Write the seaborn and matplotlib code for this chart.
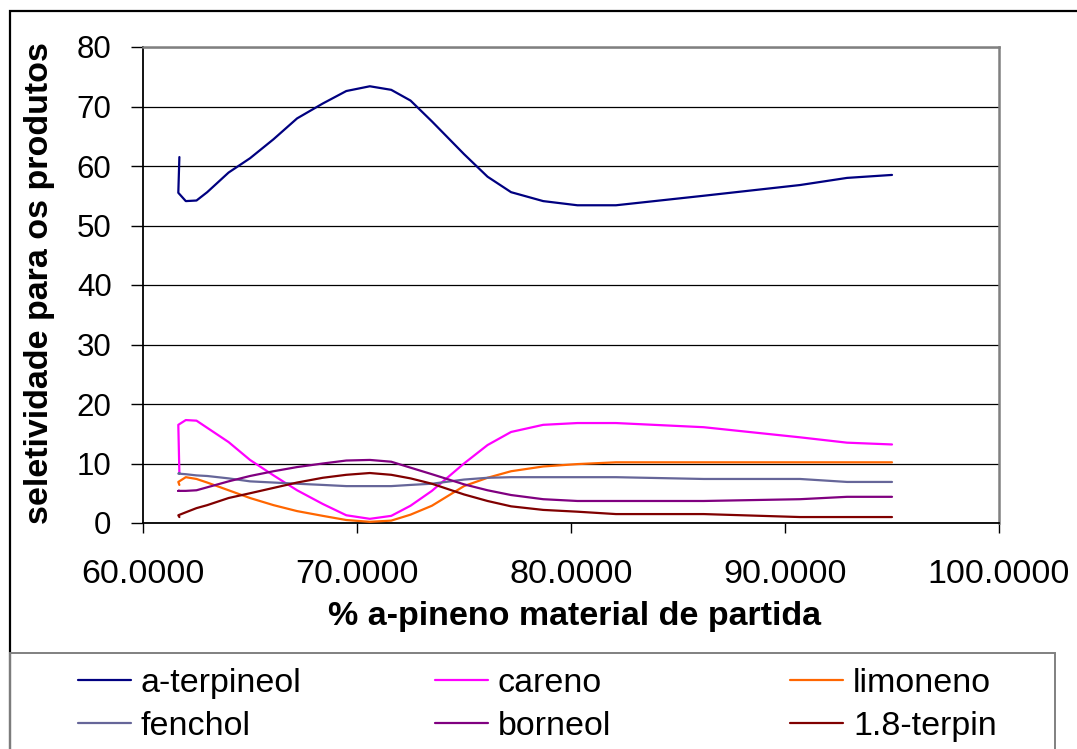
import numpy as np
import pandas as pd
import matplotlib
matplotlib.use("Agg")
import matplotlib.pyplot as plt
import seaborn as sns
from matplotlib.lines import Line2D
from matplotlib.patches import Rectangle
from matplotlib.ticker import FormatStrFormatter

# ---------------- data ----------------
x_pineno = [61.70, 61.65, 62.0, 62.5, 63.0, 64.0, 65.0, 66.1, 67.2, 68.4, 69.5, 70.6,
            71.6, 72.5, 73.5, 75.0, 76.1, 77.2, 78.7, 80.3, 82.1, 86.2, 90.7, 92.9, 95.0]

a_terpineol = [61.5, 55.5, 54.1, 54.2, 55.6, 58.9, 61.3, 64.5, 68.0, 70.5, 72.6, 73.4,
               72.8, 71.0, 67.5, 62.0, 58.2, 55.6, 54.1, 53.4, 53.4, 55.0, 56.8, 58.0, 58.5]
careno = [8.4, 16.5, 17.3, 17.2, 16.0, 13.6, 10.6, 8.0, 5.5, 3.2, 1.3, 0.7,
          1.2, 2.9, 5.4, 10.0, 13.1, 15.3, 16.5, 16.8, 16.8, 16.1, 14.4, 13.5, 13.2]
limoneno = [6.4, 6.9, 7.7, 7.4, 6.8, 5.5, 4.2, 3.0, 2.0, 1.2, 0.5, 0.2,
            0.4, 1.4, 2.9, 6.2, 7.6, 8.7, 9.5, 9.9, 10.2, 10.2, 10.2, 10.2, 10.2]
fenchol = [8.4, 8.3, 8.2, 8.0, 7.9, 7.5, 7.0, 6.8, 6.6, 6.4, 6.2, 6.2,
           6.2, 6.4, 6.6, 7.3, 7.6, 7.7, 7.7, 7.7, 7.7, 7.4, 7.4, 6.9, 6.9]
borneol = [5.4, 5.4, 5.4, 5.5, 6.0, 7.0, 7.9, 8.7, 9.4, 10.0, 10.5, 10.6,
           10.3, 9.3, 8.2, 6.5, 5.5, 4.7, 4.0, 3.7, 3.7, 3.7, 4.0, 4.4, 4.4]
terpin_18 = [1.0, 1.3, 1.8, 2.5, 3.0, 4.2, 5.0, 5.9, 6.8, 7.6, 8.1, 8.4,
             8.1, 7.5, 6.6, 4.8, 3.7, 2.8, 2.2, 1.9, 1.5, 1.5, 1.0, 1.0, 1.0]

series_names = ["a-terpineol", "careno", "limoneno", "fenchol", "borneol", "1.8-terpin"]
series_values = [a_terpineol, careno, limoneno, fenchol, borneol, terpin_18]
series_colors = ["#000080", "#FF00FF", "#FF6600", "#666699", "#800080", "#800000"]

x_ticks = [60, 70, 80, 90, 100]
y_ticks = [0, 10, 20, 30, 40, 50, 60, 70, 80]

x_title = "% a-pineno material de partida"
y_title = "seletividade para os produtos"

# ---------------- figure ----------------
sns.set_style("white")
plt.rcParams["font.family"] = ["Liberation Sans", "DejaVu Sans"]
plt.rcParams["text.color"] = "black"
plt.rcParams["axes.labelcolor"] = "black"
plt.rcParams["xtick.color"] = "black"
plt.rcParams["ytick.color"] = "black"

W, H = 1077, 749
fig = plt.figure(figsize=(W / 100, H / 100), dpi=100)
fig.patch.set_facecolor("white")

def fx(px):
    return px / W

def fy(py):
    return 1 - py / H

ax = fig.add_axes([fx(143), fy(523), fx(999) - fx(143), fy(47) - fy(523)])

frames = []
for name, vals in zip(series_names, series_values):
    frames.append(pd.DataFrame({"x": x_pineno, "y": vals, "serie": name}))
df = pd.concat(frames, ignore_index=True)

palette = dict(zip(series_names, series_colors))
sns.lineplot(data=df, x="x", y="y", hue="serie", palette=palette, sort=False,
             estimator=None, legend=False, linewidth=1.6, ax=ax, zorder=3)

ax.set_xlim(60, 100)
ax.set_ylim(0, 80)
ax.set_xticks(x_ticks)
ax.set_yticks(y_ticks)
ax.xaxis.set_major_formatter(FormatStrFormatter("%.4f"))
ax.yaxis.set_major_formatter(FormatStrFormatter("%d"))

ax.grid(axis="y", color="black", linewidth=0.9)
ax.grid(axis="x", visible=False)
ax.set_axisbelow(True)

for s in ["left", "bottom"]:
    ax.spines[s].set_color("black")
    ax.spines[s].set_linewidth(1.3)
for s in ["top", "right"]:
    ax.spines[s].set_color("#808080")
    ax.spines[s].set_linewidth(1.8)

ax.tick_params(axis="y", direction="out", length=8.6, width=1.0, color="black",
               labelcolor="black", pad=14, labelsize=22.5, left=True)
ax.tick_params(axis="x", direction="out", length=7.2, width=1.0, color="black",
               labelcolor="black", pad=19, labelsize=24.5, bottom=True)

ax.set_xlabel(x_title, fontsize=24.5, fontweight="bold", color="black")
ax.set_ylabel(y_title, fontsize=24.5, fontweight="bold", color="black")
ax.xaxis.set_label_coords((575 - 143) / 856, (523 - 616) / 476)
ax.xaxis.label.set_va("center")
ax.yaxis.set_label_coords((40 - 143) / 856, (523 - 283) / 476)
ax.yaxis.label.set_va("center")

# outer chart border
fig.patches.append(Rectangle((fx(10), -0.5), 2.0, fy(11) + 0.5, transform=fig.transFigure,
                             fill=False, edgecolor="black", linewidth=1.6, zorder=0))
# legend frame
fig.patches.append(Rectangle((fx(10), -0.5), fx(1055) - fx(10), fy(653) + 0.5,
                             transform=fig.transFigure, fill=False, edgecolor="#808080",
                             linewidth=1.4, zorder=0))

# legend: three columns, row-wise order like the original
col_x = [78, 435, 790]
for c in range(3):
    idx = [c, c + 3]
    handles = [Line2D([0], [0], color=series_colors[i], linewidth=1.6) for i in idx]
    labels = [series_names[i] for i in idx]
    lg = fig.legend(handles, labels, loc="upper left", bbox_to_anchor=(fx(col_x[c]), fy(668)),
                    bbox_transform=fig.transFigure, frameon=False, fontsize=24.5,
                    handlelength=1.55, handletextpad=0.3, labelspacing=0.36, borderpad=0,
                    borderaxespad=0)
    for t in lg.get_texts():
        t.set_color("black")

fig.savefig("out.png", dpi=100, facecolor="white")
